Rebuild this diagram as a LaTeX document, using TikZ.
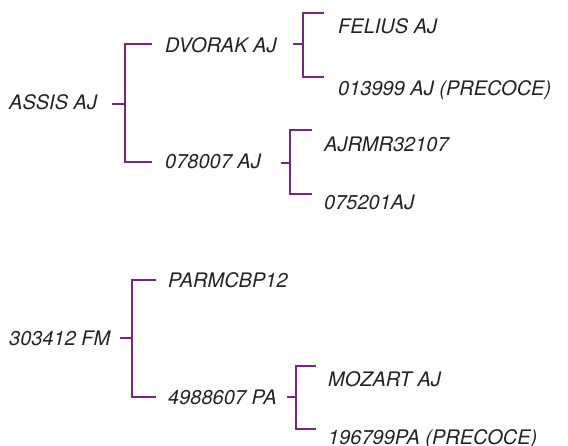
\documentclass[tikz,border=0pt]{standalone}
\usepackage{fontspec}
\setmainfont{TeX Gyre Heros}
\definecolor{brk}{HTML}{74287D}
\definecolor{txt}{HTML}{222222}
\begin{document}
\begin{tikzpicture}[x=1pt,y=-1pt,
  lbl/.style={anchor=base west,inner sep=0pt,font=\fontsize{20}{24}\selectfont\itshape,text=txt},
  br/.style={draw=brk,line width=2.8pt,line cap=butt,line join=miter}]
\useasboundingbox (0,0) rectangle (568,445);
% tree 1
\node[lbl] (assis) at (9,109) {ASSIS AJ};
\node[lbl] (dvorak) at (165,52) {DVORAK AJ};
\node[lbl] (n078) at (165,168) {078007 AJ};
\node[lbl] (felius) at (338,33) {FELIUS AJ};
\node[lbl] (n013) at (338,95) {013999 AJ (PRECOCE)};
\node[lbl] (ajr) at (324,151) {AJRMR32107};
\node[lbl] (n075) at (324,209) {075201AJ};
% tree 2
\node[lbl] (n303) at (9,345) {303412 FM};
\node[lbl] (parm) at (168,287) {PARMCBP12};
\node[lbl] (n498) at (168,404) {4988607 PA};
\node[lbl] (mozart) at (328,386) {MOZART AJ};
\node[lbl] (n196) at (328,444) {196799PA (PRECOCE)};
% brackets
\coordinate (a1) at (112,104); \coordinate (a2) at (125,104);
\draw[br] (a1) -- (a2);
\draw[br] (152,44) -- (125,44) -- (125,162) -- (152,162);
\draw[br] (293,44) -- (303,44);
\draw[br] (324,13) -- (303,13) -- (303,77) -- (324,77);
\draw[br] (281,163) -- (290,163);
\draw[br] (312,130) -- (290,130) -- (290,194) -- (312,194);
\draw[br] (120,338) -- (132,338);
\draw[br] (156,280) -- (132,280) -- (132,397) -- (156,397);
\draw[br] (287,397) -- (296,397);
\draw[br] (316,366) -- (296,366) -- (296,429) -- (316,429);
\end{tikzpicture}
\end{document}
